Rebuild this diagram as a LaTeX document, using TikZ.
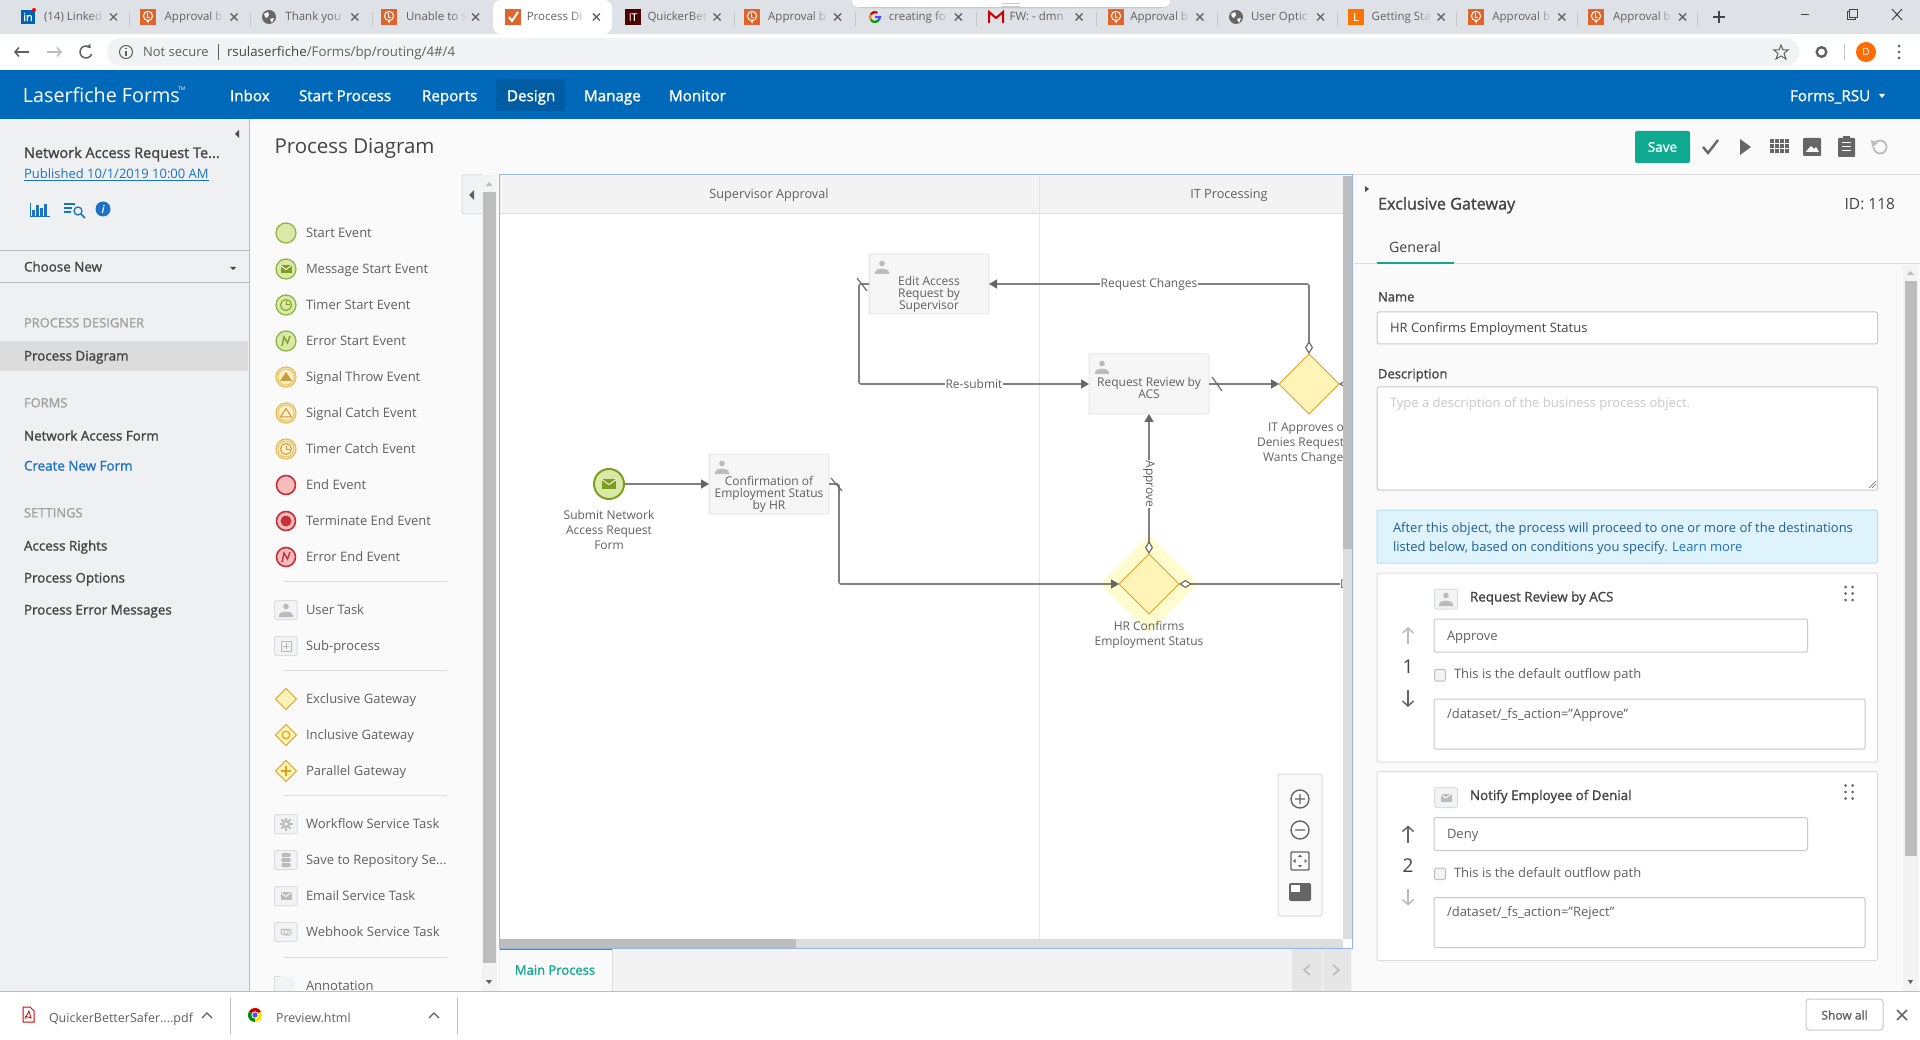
\documentclass[tikz,border=0pt]{standalone}
\usepackage{fontspec}
\setmainfont{Open Sans}
\newfontfamily\semifont[FakeBold=1.3]{Open Sans}
\usetikzlibrary{arrows.meta,shapes.geometric,fadings}
\definecolor{tabbar}{HTML}{DEE1E6}
\definecolor{addrbar}{HTML}{F1F3F4}
\definecolor{headblue}{HTML}{0069BA}
\definecolor{headsel}{HTML}{005CA3}
\definecolor{sidebg}{HTML}{EFF0F2}
\definecolor{sidesel}{HTML}{DCDCDC}
\definecolor{pagebg}{HTML}{FAFAFA}
\definecolor{scrollgray}{HTML}{BDBDBD}
\definecolor{lightbar}{HTML}{DDDDDD}
\definecolor{linegray}{HTML}{DDDDDD}
\definecolor{framegray}{HTML}{C8C8C8}
\definecolor{txtdark}{HTML}{444444}
\definecolor{txtmid}{HTML}{606060}
\definecolor{txthead}{HTML}{A0A0A0}
\definecolor{iconfade}{HTML}{BBBBBB}
\definecolor{icondark}{HTML}{666666}
\definecolor{linkblue}{HTML}{1C72C4}
\definecolor{teal}{HTML}{0FA98F}
\definecolor{canvasblue}{HTML}{94B4E6}
\definecolor{laneband}{HTML}{F3F3F3}
\definecolor{taskfill}{HTML}{F6F6F6}
\definecolor{taskline}{HTML}{E6E6E6}
\definecolor{flowline}{HTML}{808080}
\definecolor{tipgray}{HTML}{666666}
\definecolor{greenline}{HTML}{8DB33A}
\definecolor{greenfill}{HTML}{DBE9A8}
\definecolor{greendark}{HTML}{7F9E1E}
\definecolor{goldline}{HTML}{E8BC55}
\definecolor{goldfill}{HTML}{FBEFC8}
\definecolor{golddark}{HTML}{C99B3C}
\definecolor{redline}{HTML}{C5303A}
\definecolor{redfill}{HTML}{F9BCBC}
\definecolor{gatefill}{HTML}{FFF4B8}
\definecolor{gateline}{HTML}{E0A020}
\definecolor{gatehalo}{HTML}{FFFCCF}
\definecolor{lforange}{HTML}{E0642B}
\definecolor{infofill}{HTML}{DFF3FD}
\definecolor{infoline}{HTML}{B3E0F5}
\definecolor{infotxt}{HTML}{1F5F95}
\tikzset{
  uitxt/.style={anchor=west,inner sep=0pt,outer sep=0pt,font=\fontsize{#1}{#1}\selectfont,text height=#1*.8pt,text depth=#1*.12pt},
  uisemi/.style={anchor=west,inner sep=0pt,outer sep=0pt,font=\semifont\fontsize{#1}{#1}\selectfont,text height=#1*.8pt,text depth=#1*.12pt},
  tasknode/.style={draw=taskline,fill=taskfill,line width=1pt,rounded corners=2pt,minimum width=120pt,minimum height=60pt,inner sep=0pt,outer sep=0pt},
  tasktext/.style={align=center,inner sep=0pt,text=txtmid,font=\fontsize{12}{12}\selectfont},
  eventtext/.style={align=center,inner sep=0pt,text=txtmid,font=\fontsize{12}{15}\selectfont},
  gatenode/.style={diamond,aspect=1,draw=gateline,fill=gatefill,line width=1pt,minimum width=60pt,minimum height=60pt,inner sep=0pt,outer sep=0pt},
  flow/.style={draw=flowline,line width=1.6pt,rounded corners=2pt,-{Triangle[length=8pt,width=9pt,color=tipgray]}},
  flowtail/.style={draw=flowline,line width=1.6pt,rounded corners=2pt,{Diamond[length=13pt,width=8pt,fill=white,color=tipgray,line width=1.1pt]}-{Triangle[length=8pt,width=9pt,color=tipgray]}},
  flowopen/.style={draw=flowline,line width=1.6pt,{Diamond[length=13pt,width=8pt,fill=white,color=tipgray,line width=1.1pt]}-},
  flowlbl/.style={fill=white,inner sep=.5pt,text=txtmid,font=\fontsize{12}{12}\selectfont},
  slashmark/.style={draw=tipgray,line width=1.1pt},
  fieldbox/.style={draw=framegray,fill=white,line width=1pt,rounded corners=2pt},
  palbox/.style={draw=linegray,fill=addrbar,line width=1pt,rounded corners=2pt},
  palline/.style={draw=linegray,line width=1pt},
  personic/.pic={\fill[#1] (0,-3.5) circle (2.8); \fill[#1] (-7,7) -- (-7,5) .. controls (-6,.5) and (6,.5) .. (7,5) -- (7,7) -- cycle;},
  mailic/.pic={\fill[#1] (-5.5,-4) rectangle (5.5,4); \draw[white,line width=.9pt] (-5.5,-3.5) -- (0,.5) -- (5.5,-3.5);},
  clockic/.pic={\draw[#1,line width=1pt] (0,0) circle (5.5); \draw[#1,line width=1pt] (0,-3.5) -- (0,0) -- (3.5,0);},
  zigic/.pic={\draw[#1,line width=1.4pt] (-4,5) -- (-2,-4) -- (1.5,2) -- (4,-5);},
  lfic/.pic={\fill[lforange] (-8,-8) rectangle (8,8); \draw[white,line width=1pt] (0,-1) circle (4.6); \draw[white,line width=1pt] (-1,-3.5) -- (-1,.5) -- (2,.5); \fill[white] (-1.5,3.5) -- (1.5,3.5) -- (0,6.5) -- cycle;},
  globeic/.pic={\fill[icondark] (0,0) circle (7); \fill[white] (-5,-3) -- (-1,-5) -- (0,-2) -- (-2,1) -- (-4,0) -- cycle; \fill[white] (1,2) -- (5,1) -- (3,6) -- cycle;},
  tabclose/.pic={\draw[icondark,line width=1.4pt] (-3.5,-3.5) -- (3.5,3.5) (-3.5,3.5) -- (3.5,-3.5);}
}
\begin{document}
\begin{tikzpicture}[x=1pt,y=-1pt]
\useasboundingbox (0,0) rectangle (1920,1040);
\fill[pagebg] (0,0) rectangle (1920,1040);
\fill[tabbar] (0,0) rectangle (1920,34);
\fill[white] (0,34) rectangle (1920,70);
\fill[white,rounded corners=8pt] (493,34) -- (493,0) -- (612,0) -- (612,34) -- cycle;
\foreach \x in {129,250,372,734,855,976,1096,1217,1337,1456,1577,1697} {\draw[framegray,line width=.8pt] (\x,12) -- (\x,27);}
\foreach \n/\lab/\tabfill in {0/{(14) Linked}/tabbar,1/{Approval b}/tabbar,2/{Thank you}/tabbar,3/{Unable to s}/tabbar,4/{Process Di}/white,5/{QuickerBet}/tabbar,6/{Approval b}/tabbar,7/{creating fo}/tabbar,8/{FW: - dmn}/tabbar,9/{Approval b}/tabbar,10/{User Optic}/tabbar,11/{Getting Sta}/tabbar,12/{Approval b}/tabbar,13/{Approval b}/tabbar} {
  \pgfmathsetmacro\tabx{8+120.7*\n}
  \node[uitxt=11.5,text=txtmid] (tab\n) at (\tabx+36,17) {\lab};
  \fill[\tabfill,path fading=west] (\tabx+80,9) rectangle (\tabx+96,27);
  \pic at (\tabx+105.5,17) {tabclose};
}
\draw[framegray,line width=3pt,rounded corners=6pt] (855,5) -- (860,7) -- (1160,7) -- (1168,5);
\fill[white,rounded corners=6pt] (852,-8) rectangle (1170,7);
\draw[framegray,line width=.8pt] (1002,3.5) -- (1020,3.5) (1002,6) -- (1020,6);
\foreach \x in {148,389,752,1116,1476,1596} {\pic at (\x,17) {lfic};}
\pic at (269,17) {globeic};
\pic at (1236,17) {globeic};
\fill[blue!45!cyan!70!black] (21,10) rectangle (35,24);
\node[inner sep=0pt,text=white,font=\semifont\fontsize{11}{11}\selectfont] (inlogo) at (28,17) {in};
\fill[red] (34,10) circle (2);
\fill[lforange] (505,9) rectangle (521,25);
\draw[white,line width=2pt] (509,17) -- (512,21) -- (518,12);
\fill[black!70!red] (625,9) rectangle (641,25);
\node[inner sep=0pt,text=white,font=\semifont\fontsize{10}{10}\selectfont] (itlogo) at (633,17) {IT};
\draw[red!80!black,line width=2.2pt] (875,17) ++(60:5pt) arc[start angle=60,end angle=150,radius=5pt];
\draw[orange,line width=2.2pt] (875,17) ++(150:5pt) arc[start angle=150,end angle=215,radius=5pt];
\draw[green!60!black,line width=2.2pt] (875,17) ++(215:5pt) arc[start angle=215,end angle=320,radius=5pt];
\draw[blue!70,line width=2.2pt] (875,17) ++(320:5pt) arc[start angle=320,end angle=360,radius=5pt] -- ++(-5,0);
\draw[red!80!black,line width=2pt] (989,23) -- (989,12) -- (996,18) -- (1003,12) -- (1003,23);
\fill[orange!90!red] (1348,9) rectangle (1364,25);
\node[inner sep=0pt,text=white,font=\semifont\fontsize{11}{11}\selectfont] (gslogo) at (1356,17) {L};
\draw[txtdark,line width=1.3pt] (1713,17) -- (1725,17) (1719,11) -- (1719,23);
\draw[txtdark,line width=1pt] (1801,15) -- (1809,15);
\draw[txtdark,line width=1pt] (1847,12) rectangle (1855,20);
\fill[tabbar] (1849,10) rectangle (1857,18);
\draw[txtdark,line width=1pt] (1849,10) rectangle (1857,18);
\draw[txtdark,line width=1pt] (1892,9) -- (1902,20) (1892,20) -- (1902,9);
\fill[addrbar,rounded corners=13pt] (107,38) rectangle (1799,66);
\draw[txtmid,line width=1.5pt,-{Straight Barb[length=4pt,width=9pt]}] (29,52) -- (14,52);
\draw[iconfade,line width=1.5pt,-{Straight Barb[length=4pt,width=9pt]}] (47,52) -- (62,52);
\draw[txtmid,line width=1.5pt,-{Triangle[length=3.5pt,width=5pt]}] (86,52) ++(-20:6pt) arc[start angle=-20,end angle=-320,radius=6pt];
\draw[txtmid,line width=1pt] (126,52) circle (6.5);
\draw[txtmid,line width=1.3pt] (126,51) -- (126,56) (126,48) -- (126,49);
\node[uitxt=13,text=txtmid] (notsec) at (143,52) {Not secure};
\draw[txtmid,line width=.8pt] (218,44) -- (218,60);
\node[uitxt=13.3,text=txtdark] (urlbar) at (227,52) {rsulaserfiche\textcolor{txtmid}{/Forms/bp/routing/4\#/4}};
\draw[txtmid,line width=1pt] (1781,45) -- (1783,50) -- (1788,50) -- (1784,53.5) -- (1786,59) -- (1781,56) -- (1776,59) -- (1778,53.5) -- (1774,50) -- (1779,50) -- cycle;
\draw[txtmid,line width=2.4pt] (1821.5,52) circle (4.8);
\draw[framegray,line width=.8pt] (1844,44) -- (1844,60);
\fill[orange!85!red] (1866,52) circle (10);
\node[inner sep=0pt,text=white,font=\fontsize{10}{10}\selectfont] (userd) at (1866,52) {D};
\foreach \y in {46,52,58} {\fill[txtmid] (1899,\y) circle (1.5);}
\fill[headblue] (0,70) rectangle (1920,119);
\fill[headsel,rounded corners=2pt] (496,79) rectangle (565,111);
\node[uitxt=19.7,text=white] (brand) at (23,96) {Laserfiche Forms};
\node[uitxt=5,text=white] (brandtm) at (178,89) {TM};
\foreach \x/\lab in {230/Inbox,299/Start Process,422/Reports,507/Design,584/Manage,669/Monitor} {\node[uisemi=15.2,text=white] (nav\x) at (\x,96) {\lab};}
\node[uisemi=15.2,text=white] (account) at (1790,96) {Forms\_RSU};
\fill[white] (1879,94) -- (1885,94) -- (1882,98) -- cycle;
\fill[sidebg] (0,119) rectangle (249,992);
\draw[scrollgray,line width=1pt] (249,119) -- (249,992);
\fill[black!70] (239,130) -- (239,138) -- (235,134) -- cycle;
\node[uisemi=14.5,text=txtdark] (proctitle) at (24,153) {Network Access Request Te...};
\node[uitxt=13,text=linkblue] (published) at (24,174) {\underline{Published 10/1/2019 10:00 AM}};
\draw[linkblue,line width=1pt] (30,203) -- (30,217) -- (50,217);
\foreach \x/\h in {33.5/6,37.5/11,41.5/8,45.5/12} {\draw[linkblue,line width=2.4pt] (\x,216) -- (\x,216-\h);}
\draw[linkblue,line width=1.3pt] (64,204) -- (75,204) (64,208) -- (72,208) (64,212) -- (71,212);
\draw[linkblue,line width=1.3pt] (78,211) circle (4);
\draw[linkblue,line width=1.6pt] (81,214) -- (85,218);
\fill[linkblue] (103,209) circle (7.5);
\node[inner sep=0pt,text=white,font=\semifont\fontsize{11}{11}\itshape\selectfont] (infoglyph) at (103,209) {i};
\draw[scrollgray,line width=1pt] (0,251) -- (249,251) (0,283) -- (249,283);
\node[uisemi=13.4,text=txtdark] (choosenew) at (24,267) {Choose New};
\fill[txtdark] (230,267) -- (236,267) -- (233,270) -- cycle;
\fill[sidesel] (0,341) rectangle (248,371);
\foreach \y/\lab in {323/PROCESS DESIGNER,403/FORMS,513/SETTINGS} {\node[uisemi=12.9,text=txthead] (sidehd\y) at (24,\y) {\lab};}
\foreach \y/\lab in {356/Process Diagram,436/Network Access Form,546/Access Rights,578/Process Options,610/Process Error Messages} {\node[uisemi=13.4,text=txtdark] (side\y) at (24,\y) {\lab};}
\node[uisemi=13.4,text=linkblue] (createform) at (24,466) {Create New Form};
\node[uitxt=20.5,text=txtdark] (pagetitle) at (274.5,147) {Process Diagram};
\foreach \y/\lab in {233/Start Event,269/Message Start Event,305/Timer Start Event,341/Error Start Event,377/Signal Throw Event,413/Signal Catch Event,449/Timer Catch Event,485/End Event,521/Terminate End Event,557/Error End Event,610/User Task,646/Sub-process,699/Exclusive Gateway,735/Inclusive Gateway,771/Parallel Gateway,824/Workflow Service Task,860/{Save to Repository Se...},896/Email Service Task,932/Webhook Service Task,986/Annotation} {\node[uitxt=13,text=txtmid] (pal\y) at (306,\y) {\lab};}
\foreach \y in {581,670,795,957} {\draw[palline] (284,\y) -- (447,\y);}
\foreach \y in {233,269,305,341} {\draw[greenline,fill=greenfill,line width=1.2pt] (286,\y) circle (10);}
\pic at (286,269) {mailic=greendark};
\pic at (286,305) {clockic=greendark};
\pic at (286,341) {zigic=greendark};
\foreach \y in {377,413,449} {\draw[goldline,fill=goldfill,line width=1.2pt] (286,\y) circle (10); \draw[goldline,line width=.8pt] (286,\y) circle (8);}
\fill[golddark] (280,381) -- (292,381) -- (286,372) -- cycle;
\draw[golddark,line width=1pt] (280.5,417) -- (291.5,417) -- (286,408.5) -- cycle;
\pic at (286,449) {clockic=golddark};
\foreach \y in {485,521,557} {\draw[redline,fill=redfill,line width=1.6pt] (286,\y) circle (9.5);}
\fill[redline] (286,521) circle (5.5);
\pic at (286,557) {zigic=redline};
\foreach \y in {610,646,824,860,896,932} {\draw[palbox] (274.5,\y-9.5) rectangle (297,\y+9.5);}
\pic at (286,610) {personic=iconfade};
\draw[iconfade,line width=1pt] (281,641) rectangle (291,651);
\draw[iconfade,line width=1pt] (283,646) -- (289,646) (286,643) -- (286,649);
\foreach \a in {0,45,...,315} {\draw[iconfade,line width=2pt] (286,824) ++(\a:3.5pt) -- ++(\a:3pt);}
\fill[iconfade] (286,824) circle (4);
\fill[addrbar] (286,824) circle (1.8);
\foreach \y in {855,860,865} {\fill[iconfade,rounded corners=1pt] (281.5,\y-2) rectangle (290.5,\y+2);}
\pic at (286,896) {mailic=iconfade};
\draw[iconfade,line width=1pt,rounded corners=2pt] (281,929) rectangle (288,934.5);
\draw[iconfade,line width=1pt,rounded corners=2pt] (284,929.5) rectangle (291,935);
\foreach \y in {699,735,771} {\draw[gateline,fill=gatefill,line width=1pt] (286,\y-10.5) -- (296.5,\y) -- (286,\y+10.5) -- (275.5,\y) -- cycle;}
\draw[gateline,line width=1.2pt] (286,735) circle (3.8);
\draw[gateline,line width=1.6pt] (281,771) -- (291,771) (286,766) -- (286,776);
\fill[addrbar] (275,977) rectangle (295,995);
\draw[linegray,line width=1pt] (274.5,995) -- (274.5,976.5) -- (281,976.5);
\fill[laneband] (482,175) rectangle (497,992);
\fill[scrollgray] (483,192) rectangle (496,963);
\fill[iconfade] (485.5,186) -- (492.5,186) -- (489,182) -- cycle;
\fill[txtmid] (486,980) -- (492,980) -- (489,984) -- cycle;
\draw[linegray,fill=addrbar,line width=1pt,rounded corners=2pt] (482,175) -- (462,175) -- (462,214) -- (482,214);
\fill[txtmid] (474,190) -- (474,200) -- (469,195) -- cycle;
\fill[white] (499,176) rectangle (1352,948);
\fill[laneband] (499,176) rectangle (1352,214);
\draw[linegray,line width=1pt] (499,214) -- (1352,214);
\draw[taskline,line width=1pt] (1039,176) -- (1039,939);
\node[text=txtmid,inner sep=0pt,font=\fontsize{12.7}{12.7}\selectfont] (lanesup) at (769,195) {Supervisor Approval};
\node[text=txtmid,inner sep=0pt,font=\fontsize{12.7}{12.7}\selectfont] (laneit) at (1229,195) {IT Processing};
\fill[gatehalo] (1149,535) -- (1198,584) -- (1149,633) -- (1100,584) -- cycle;
\draw[greendark,fill=greenfill,line width=2pt] (609,484) circle (15) node (startev) [circle,minimum size=31pt,inner sep=0pt,outer sep=0pt] {};
\pic[scale=1.35] at (609,484) {mailic=greendark};
\node[eventtext] (startlbl) at (609,530) {Submit Network\\Access Request\\Form};
\node[tasknode] (editreq) at (929,284) {};
\node[tasknode] (review) at (1149,384) {};
\node[tasknode] (confirm) at (769,484) {};
\pic at (882,267) {personic=iconfade};
\pic at (1102,367) {personic=iconfade};
\pic at (722,467) {personic=iconfade};
\node[tasktext] (editlbl) at (929,294) {Edit Access\\Request by\\Supervisor};
\node[tasktext] (reviewlbl) at (1149,388) {Request Review by\\ACS};
\node[tasktext] (confirmlbl) at (769,494) {Confirmation of\\Employment Status\\by HR};
\node[gatenode] (itgate) at (1309,384) {};
\node[gatenode] (hrgate) at (1149,584) {};
\node[uitxt=12,text=txtmid] (itlbla) at (1268,427) {IT Approves or};
\node[uitxt=12,text=txtmid] (itlblb) at (1257,442) {Denies Request};
\node[uitxt=12,text=txtmid] (itlblc) at (1263,457) {Wants Changes};
\node[eventtext] (hrlbl) at (1149,634.5) {HR Confirms\\Employment Status};
\node[flowlbl,anchor=west,inner sep=0pt] (denylbl) at (1340,584) {D};
\coordinate (itout) at (1352,384);
\draw[flow] (startev) -- (confirm.west);
\draw[flow] (confirm.east) -- ++(10,0) |- (hrgate.west);
\draw[flow] (editreq.west) -- ++(-10,0) |- node[flowlbl,pos=.75] (resubmit) {Re-submit} (review.west);
\draw[flow] (review.east) -- (itgate.west);
\draw[flowtail] (itgate.north) |- node[flowlbl,pos=.75] (reqchg) {Request Changes} (editreq.east);
\draw[flowtail] (hrgate.north) -- node[flowlbl,rotate=-90] (approve) {Approve} (review.south);
\draw[flowopen] (hrgate.east) -- (denylbl.west);
\draw[flowopen] (itgate.east) -- (itout);
\draw[slashmark] ([shift={(2,-6)}]confirm.east) -- ([shift={(13,7)}]confirm.east);
\draw[slashmark] ([shift={(3,-7)}]review.east) -- ([shift={(13,7)}]review.east);
\draw[slashmark] ([shift={(-12,-6)}]editreq.west) -- ([shift={(-2,7)}]editreq.west);
\fill[lightbar] (1343,176) rectangle (1352,939);
\fill[scrollgray] (1343,176) rectangle (1352,549);
\fill[white] (1343,939) rectangle (1352,948);
\fill[lightbar] (499,939) rectangle (1343,948);
\fill[scrollgray] (499,939) rectangle (796,948);
\draw[fill=pagebg,draw=linegray,line width=1pt,rounded corners=2pt] (1278,774) rectangle (1322,916);
\draw[icondark,line width=1.4pt] (1300,799) circle (9) (1295,799) -- (1305,799) (1300,794) -- (1300,804);
\draw[icondark,line width=1.4pt] (1300,830) circle (9) (1295,830) -- (1305,830);
\draw[icondark,line width=1.4pt,rounded corners=1pt] (1291,852) rectangle (1309,870);
\fill[icondark] (1298,857) -- (1302,857) -- (1300,854.5) -- cycle (1298,865) -- (1302,865) -- (1300,867.5) -- cycle (1295.5,859) -- (1295.5,863) -- (1293,861) -- cycle (1304.5,859) -- (1304.5,863) -- (1307,861) -- cycle;
\fill[icondark,rounded corners=1.5pt] (1289,883) rectangle (1311,901);
\fill[white] (1291,885) rectangle (1300,892);
\fill[laneband] (499,948) rectangle (1352,992);
\fill[pagebg] (500,948) rectangle (612,992);
\draw[linegray,line width=1pt] (612,948) -- (612,992);
\draw[teal,line width=1.5pt] (500,949) -- (612,949);
\node[inner sep=0pt,text=teal,font=\semifont\fontsize{13}{13}\selectfont] (maintab) at (555,970) {Main Process};
\fill[taskline] (1292,948) rectangle (1322,991);
\fill[taskline] (1323,948) rectangle (1351,991);
\draw[iconfade,line width=1.6pt] (1310,965) -- (1304,970) -- (1310,975) (1333,965) -- (1339,970) -- (1333,975);
\draw[canvasblue,line width=1pt] (499,948) -- (499,175) -- (1352,175) -- (1352,948) -- cycle;
\fill[pagebg] (1354,176) rectangle (1920,992);
\draw[linegray,line width=1pt] (1353,175) -- (1920,175);
\fill[black!70] (1365,186) -- (1365,192) -- (1369,189) -- cycle;
\fill[teal,rounded corners=2pt] (1635,131) rectangle (1690,163);
\node[inner sep=0pt,text=white,font=\semifont\fontsize{13.5}{13.5}\selectfont] (savebtn) at (1662.5,147) {Save};
\draw[icondark,line width=2.4pt] (1703,147) -- (1708,153) -- (1718,140);
\fill[icondark] (1740,139) -- (1751,147) -- (1740,155) -- cycle;
\foreach \i in {0,1,2,3} {\foreach \j in {0,1,2} {\fill[icondark] (1770+\i*5,139.5+\j*5) rectangle +(4,4);}}
\fill[icondark,rounded corners=1pt] (1803,138) rectangle (1821,156);
\fill[white] (1805.5,152) -- (1811,146) -- (1814,149) -- (1816,147) -- (1819,152) -- cycle;
\fill[icondark,rounded corners=1pt] (1838,138) rectangle (1855,157);
\fill[icondark] (1843,136) rectangle (1850,140);
\draw[white,line width=1pt] (1842,143) -- (1851,143) (1842,147) -- (1851,147) (1842,151) -- (1851,151);
\draw[iconfade,line width=1.8pt] (1880,147) ++(150:6.5pt) arc[start angle=150,end angle=-180,radius=6.5pt];
\fill[iconfade] (1871,140) -- (1878,143) -- (1872,147) -- cycle;
\node[uisemi=16.2,text=txtdark] (paneltitle) at (1378,204) {Exclusive Gateway};
\node[uitxt=15.5,text=txtdark,anchor=east] (panelid) at (1895,204) {ID: 118};
\node[uitxt=14.2,text=txtdark] (generaltab) at (1389,248) {General};
\draw[linegray,line width=1pt] (1354,264) -- (1920,264);
\fill[teal] (1377,262) rectangle (1454,264.5);
\fill[laneband] (1903,265) rectangle (1918,992);
\fill[scrollgray] (1904.5,281) rectangle (1917,856);
\fill[iconfade] (1907,275) -- (1914,275) -- (1910.5,271) -- cycle;
\fill[txtmid] (1908,980) -- (1913,980) -- (1910.5,984) -- cycle;
\node[uisemi=13,text=txtdark] (namelbl) at (1378,297) {Name};
\draw[fieldbox] (1377,312) rectangle (1877.5,344);
\node[uitxt=13,text=txtdark] (nameval) at (1390,328) {HR Confirms Employment Status};
\node[uisemi=13,text=txtdark] (desclbl) at (1378,374) {Description};
\draw[fieldbox] (1377,387) rectangle (1877.5,490);
\node[uitxt=13,text=framegray] (descval) at (1390,403) {Type a description of the business process object.};
\draw[txtmid,line width=.5pt] (1869,488) -- (1876,481) (1872,488) -- (1876,484);
\draw[infoline,fill=infofill,line width=1pt,rounded corners=2pt] (1377,510) rectangle (1877.5,563);
\node[uitxt=13,text=infotxt] (infoa) at (1393,528) {After this object, the process will proceed to one or more of the destinations};
\node[uitxt=13,text=infotxt] (infob) at (1393,547) {listed below, based on conditions you specify. \textcolor{linkblue}{Learn more}};
\foreach \n/\o/\lab/\val/\cond/\ucol/\dcol in {1/0/{Request Review by ACS}/Approve/{/dataset/\_fs\_action="Approve"}/iconfade/icondark,2/198.5/{Notify Employee of Denial}/Deny/{/dataset/\_fs\_action="Reject"}/icondark/iconfade} {
  \draw[linegray,fill=white,line width=1pt,rounded corners=2pt] (1377,573+\o) rectangle (1877.5,762+\o);
  \draw[palbox] (1434.5,589+\o) rectangle (1457.5,609+\o);
  \node[uisemi=13.4,text=txtdark] (card\n) at (1470,597+\o) {\lab};
  \foreach \gx in {1845.5,1852.5} {\foreach \gy in {587,593.5,600} {\fill[icondark] (\gx,\gy+\o) circle (1.5);}}
  \draw[fieldbox] (1434,619+\o) rectangle (1807.5,652+\o);
  \node[uitxt=13,text=txtmid] (val\n) at (1447,636+\o) {\val};
  \draw[\ucol,line width=1.5pt,-{Straight Barb[length=5pt,width=11pt]}] (1408,644+\o) -- (1408,627+\o);
  \draw[\dcol,line width=1.5pt,-{Straight Barb[length=5pt,width=11pt]}] (1408,690+\o) -- (1408,707+\o);
  \node[inner sep=0pt,text=txtdark,font=\fontsize{19}{19}\selectfont] (num\n) at (1408,667+\o) {\n};
  \draw[draw=scrollgray,fill=addrbar,line width=1pt,rounded corners=1.5pt] (1434.5,669.5+\o) rectangle (1445.5,681+\o);
  \node[uitxt=13,text=txtmid] (dflt\n) at (1454,674.5+\o) {This is the default outflow path};
  \draw[fieldbox] (1434,699+\o) rectangle (1865,749+\o);
  \node[uitxt=13,text=txtmid] (cond\n) at (1447,714+\o) {\cond};
}
\pic at (1446,599) {personic=iconfade};
\pic at (1446,797.5) {mailic=iconfade};
\fill[white] (0,992) rectangle (1920,1040);
\draw[scrollgray,line width=1.2pt] (0,991.5) -- (1920,991.5);
\draw[red!85!black,fill=white,line width=1pt] (23,1007) -- (30,1007) -- (34,1011) -- (34,1022) -- (23,1022) -- cycle;
\draw[red!85!black,line width=.8pt] (25,1019) -- (29,1011) -- (31,1018) -- (25,1016);
\node[uitxt=12.5,text=txtmid] (pdfname) at (49,1018) {QuickerBetterSafer....pdf};
\draw[txtmid,line width=1.3pt] (202,1018) -- (207,1013) -- (212,1018);
\draw[scrollgray,line width=.8pt] (230,998) -- (230,1034);
\begin{scope}[shift={(255,1015)}]
\fill[red!80!black] (0,0) -- (30:7pt) arc[start angle=30,end angle=150,radius=7pt] -- cycle;
\fill[green!55!black] (0,0) -- (150:7pt) arc[start angle=150,end angle=270,radius=7pt] -- cycle;
\fill[yellow!85!orange] (0,0) -- (270:7pt) arc[start angle=270,end angle=390,radius=7pt] -- cycle;
\fill[white] (0,0) circle (3.6);
\fill[blue!70] (0,0) circle (2.6);
\end{scope}
\node[uitxt=12.5,text=txtmid] (htmlname) at (276,1018) {Preview.html};
\draw[txtmid,line width=1.3pt] (429,1018) -- (434,1013) -- (439,1018);
\draw[scrollgray,line width=.8pt] (457,998) -- (457,1034);
\draw[framegray,fill=white,line width=1pt,rounded corners=3pt] (1806,999) rectangle (1883,1030);
\node[inner sep=0pt,text=txtmid,font=\semifont\fontsize{12}{12}\selectfont] (showall) at (1844.5,1015) {Show all};
\draw[icondark,line width=1.5pt] (1897,1010) -- (1907,1020) (1897,1020) -- (1907,1010);
\end{tikzpicture}
\end{document}
